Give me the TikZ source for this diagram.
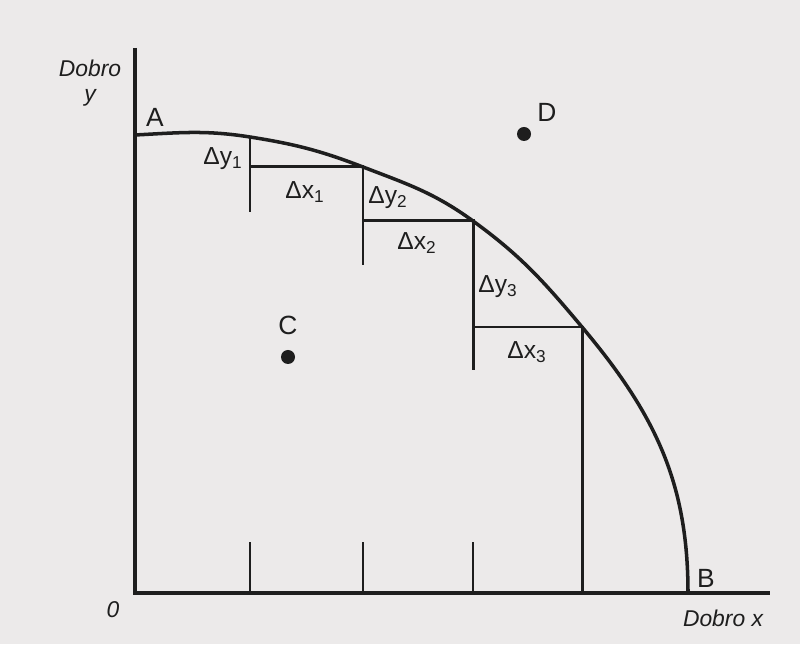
\documentclass[tikz,border=0pt]{standalone}
\usepackage{fontspec}
\setmainfont{Liberation Sans}
\definecolor{paper}{HTML}{ECEAEA}
\definecolor{ink}{HTML}{1E1E1E}
\usetikzlibrary{positioning}

\begin{document}
\begin{tikzpicture}[
  axis/.style={draw=ink, line width=2.2pt},
  frontier/.style={draw=ink, line width=2pt},
  stepline/.style={draw=ink, line width=1.7pt},
  tickline/.style={draw=ink, line width=1.5pt},
  delta/.style={font=\fontsize{14}{16}\selectfont, text=ink, inner sep=1pt},
  pointlabel/.style={font=\fontsize{15}{17}\selectfont, text=ink, inner sep=1pt},
  axislabel/.style={font=\fontsize{13}{14}\selectfont\itshape, text=ink,
                    align=center, inner sep=1pt},
  dot/.style={circle, fill=ink, inner sep=0pt, minimum size=0.28cm},
]
\fill[paper] (-2.7,-1.02) rectangle (13.3,11.86);
\useasboundingbox (-2.7,-1.02) rectangle (13.3,11.86);

% axes
\coordinate (O) at (0,0);
\coordinate (ytop) at (0,10.9);
\coordinate (xend) at (12.7,0);
\draw[axis] (ytop) -- (O) -- (xend);

% frontier A--B and the corners of the steps
\coordinate (A) at (0,9.16);
\coordinate (c1) at (2.3,9.12);
\coordinate (c2) at (4.56,8.52);
\coordinate (c3) at (6.76,7.44);
\coordinate (c4) at (8.94,5.32);
\coordinate (B) at (11.06,0);
\draw[frontier] (A) to[out=3, in=171] (c1) to[out=-9, in=159] (c2)
  to[out=-21, in=144] (c3) to[out=-36, in=130] (c4) to[out=-50, in=90] (B);

% steps
\draw[stepline] (c1) -- (c1 |- c2) -- (c2) -- (c2 |- c3) -- (c3)
  -- (c3 |- c4) -- (c4) -- (c4 |- O);
\draw[stepline] (c1 |- c2) -- ++(0,-0.9);
\draw[stepline] (c2 |- c3) -- ++(0,-0.88);
\draw[stepline] (c3 |- c4) -- ++(0,-0.86);

% ticks on the x axis
\draw[tickline] (c1 |- O) -- ++(0,1.02);
\draw[tickline] (c2 |- O) -- ++(0,1.02);
\draw[tickline] (c3 |- O) -- ++(0,1.02);

% step labels
\node[delta] (dy1) at (1.76,8.68) {Δy\textsubscript{1}};
\node[delta] (dx1) at (3.4,8.02) {Δx\textsubscript{1}};
\node[delta] (dy2) at (5.06,7.9) {Δy\textsubscript{2}};
\node[delta] (dx2) at (5.64,7.0) {Δx\textsubscript{2}};
\node[delta] (dy3) at (7.26,6.12) {Δy\textsubscript{3}};
\node[delta] (dx3) at (7.84,4.82) {Δx\textsubscript{3}};

% points
\node[pointlabel] (labA) at (0.4,9.52) {A};
\node[pointlabel] (labB) at (11.42,0.3) {B};
\node[dot] (ptC) at (3.06,4.72) {};
\node[pointlabel, above=0.26cm of ptC] (labC) {C};
\node[dot] (ptD) at (7.78,9.18) {};
\node[pointlabel, above right=0.1cm and 0.12cm of ptD] (labD) {D};

% axis labels
\node[axislabel] (laby) at (-0.9,10.2) {Dobro\\y};
\node[axislabel] (labx) at (11.76,-0.5) {Dobro x};
\node[axislabel] (lab0) at (-0.44,-0.34) {0};
\end{tikzpicture}
\end{document}
